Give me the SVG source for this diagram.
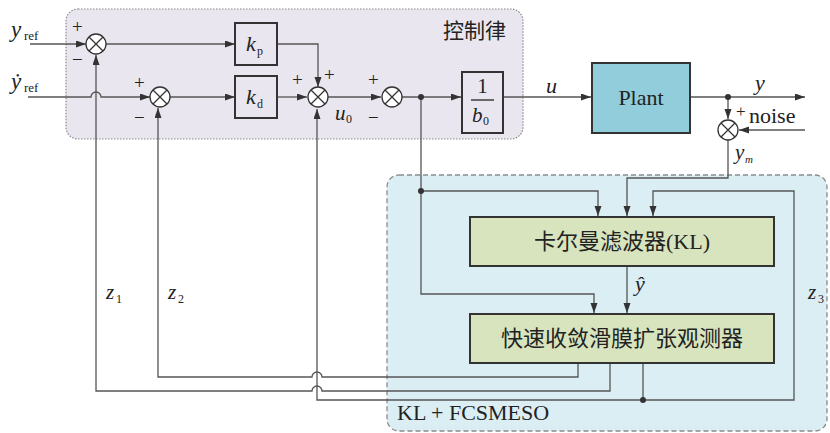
<svg xmlns="http://www.w3.org/2000/svg" width="830" height="433" viewBox="0 0 830 433">
<style>
.t{font-family:"Liberation Serif",serif;fill:#222}
.c{font-family:"Liberation Serif","Noto Sans CJK SC",serif;fill:#222}
.i{font-style:italic}
.ln{fill:none;stroke:#555;stroke-width:1.3}
.blk{fill:none;stroke:#333;stroke-width:2}
.sum circle{fill:#fff;stroke:#333;stroke-width:1.3}
.sum path{stroke:#333;stroke-width:1.3}
</style>
<defs>
<marker id="ar" markerUnits="userSpaceOnUse" markerWidth="11" markerHeight="8" refX="10" refY="3.5" orient="auto"><path d="M0,0 L10,3.5 L0,7 z" fill="#333"/></marker>
</defs>
<rect x="66" y="9" width="457" height="130" rx="12" fill="#e9e6ef" stroke="#888" stroke-width="1.2" stroke-dasharray="1.5 1.5"/>
<text class="c" x="443" y="38" font-size="21">控制律</text>
<rect x="387" y="175" width="440" height="256" rx="12" fill="#daeef4" stroke="#8c8c8c" stroke-width="1.3" stroke-dasharray="5 3"/>
<text class="t" x="397" y="420" font-size="22">KL + FCSMESO</text>

<g id="connectors">
<path class="ln" d="M30,44 H86" marker-end="url(#ar)"/>
<path class="ln" d="M106,44 H235" marker-end="url(#ar)"/>
<path class="ln" d="M277,44 H318 V87" marker-end="url(#ar)"/>
<path class="ln" d="M28,97 H91 a5,5 0 0 1 10,0 H150" marker-end="url(#ar)"/>
<path class="ln" d="M170,97 H235" marker-end="url(#ar)"/>
<path class="ln" d="M277,97 H307" marker-end="url(#ar)"/>
<path class="ln" d="M328,97 H381" marker-end="url(#ar)"/>
<path class="ln" d="M402,97 H461" marker-end="url(#ar)"/>
<path class="ln" d="M503,97 H591" marker-end="url(#ar)"/>
<path class="ln" d="M690,97 H805" marker-end="url(#ar)"/>
<path class="ln" d="M728,97 V119" marker-end="url(#ar)"/>
<path class="ln" d="M805,130 H739" marker-end="url(#ar)"/>
<path class="ln" d="M728,140 V178 H627 V216" marker-end="url(#ar)"/>
<path class="ln" d="M421,97 V191 H598 V216" marker-end="url(#ar)"/>
<path class="ln" d="M421,191 V294 H594 V313" marker-end="url(#ar)"/>
<path class="ln" d="M627,266 V313" marker-end="url(#ar)"/>
<path class="ln" d="M643,363 V400"/>
<path class="ln" d="M643,400 H794 V191 H653 V216" marker-end="url(#ar)"/>
<path class="ln" d="M643,400 H317 V109" marker-end="url(#ar)"/>
<path class="ln" d="M578,363 V377 H322 a5,5 0 0 0 -10,0 H158 V108" marker-end="url(#ar)"/>
<path class="ln" d="M610,363 V391 H322 a5,5 0 0 0 -10,0 H96 V55" marker-end="url(#ar)"/>
<circle cx="421" cy="97" r="3" fill="#333"/>
<circle cx="421" cy="191" r="3" fill="#333"/>
<circle cx="728" cy="97" r="3" fill="#333"/>
<circle cx="643" cy="400" r="3" fill="#333"/>
</g>

<g id="sum1" class="sum"><circle cx="96" cy="44" r="10"/><path d="M89,37 L103,51 M103,37 L89,51"/></g>
<g id="sum2" class="sum"><circle cx="160" cy="97" r="10"/><path d="M153,90 L167,104 M167,90 L153,104"/></g>
<g id="sum3" class="sum"><circle cx="318" cy="97" r="10"/><path d="M311,90 L325,104 M325,90 L311,104"/></g>
<g id="sum4" class="sum"><circle cx="392" cy="97" r="10"/><path d="M385,90 L399,104 M399,90 L385,104"/></g>
<g id="sum5" class="sum"><circle cx="728" cy="130" r="10"/><path d="M721,123 L735,137 M735,123 L721,137"/></g>

<g id="kp"><rect class="blk" x="235" y="23" width="42" height="42"/><text class="t i" x="246" y="51" font-size="22">k</text><text class="t" x="257" y="55" font-size="12">p</text></g>
<g id="kd"><rect class="blk" x="235" y="76" width="42" height="42"/><text class="t i" x="246" y="104" font-size="22">k</text><text class="t" x="257" y="108" font-size="12">d</text></g>
<g id="b0"><rect class="blk" x="462" y="72" width="41" height="61"/><text class="t" x="482.5" y="93" font-size="21" text-anchor="middle">1</text><path d="M471,100 H494" stroke="#222" stroke-width="1.3"/><text class="t i" x="472" y="122" font-size="21">b</text><text class="t" x="483" y="125" font-size="12">0</text></g>
<g id="plant"><rect x="592" y="63" width="98" height="70" fill="#92cddc" stroke="#333" stroke-width="2"/><text class="t" x="641" y="105" font-size="22" text-anchor="middle">Plant</text></g>
<g id="kl"><rect x="470" y="217" width="304" height="49" fill="#d7e4bd" stroke="#333" stroke-width="2"/><text class="c" x="622" y="249" font-size="22" text-anchor="middle">卡尔曼滤波器(KL)</text></g>
<g id="eso"><rect x="470" y="314" width="304" height="49" fill="#d7e4bd" stroke="#333" stroke-width="2"/><text class="c" x="622" y="346" font-size="22" text-anchor="middle">快速收敛滑膜扩张观测器</text></g>

<g id="labels">
<text class="t i" x="11" y="37" font-size="23">y</text><text class="t" x="24" y="40" font-size="13">ref</text>
<text class="t i" x="11" y="89" font-size="23">ẏ</text><text class="t" x="24" y="92" font-size="13">ref</text>
<text class="t" x="72" y="33" font-size="19">+</text><text class="t" x="72" y="66" font-size="19">−</text>
<text class="t" x="134" y="89" font-size="19">+</text><text class="t" x="134" y="124" font-size="19">−</text>
<text class="t" x="292" y="86" font-size="19">+</text><text class="t" x="324" y="81" font-size="19">+</text>
<text class="t" x="368" y="86" font-size="19">+</text><text class="t" x="368" y="124" font-size="19">−</text>
<text class="t i" x="335" y="120" font-size="21">u</text><text class="t" x="346" y="123" font-size="12">0</text>
<text class="t i" x="546" y="93" font-size="22">u</text>
<text class="t i" x="755" y="90" font-size="22">y</text>
<text class="t" x="736" y="117" font-size="17">+</text>
<text class="t" x="749" y="123" font-size="22">noise</text>
<text class="t i" x="735" y="159" font-size="21">y</text><text class="t i" x="745" y="163" font-size="11">m</text>
<text class="t i" x="635" y="291" font-size="22">ŷ</text>
<text class="t i" x="106" y="299" font-size="21">z</text><text class="t" x="116" y="303" font-size="12">1</text>
<text class="t i" x="168" y="299" font-size="21">z</text><text class="t" x="178" y="303" font-size="12">2</text>
<text class="t i" x="808" y="299" font-size="21">z</text><text class="t" x="818" y="303" font-size="12">3</text>
</g>
</svg>
